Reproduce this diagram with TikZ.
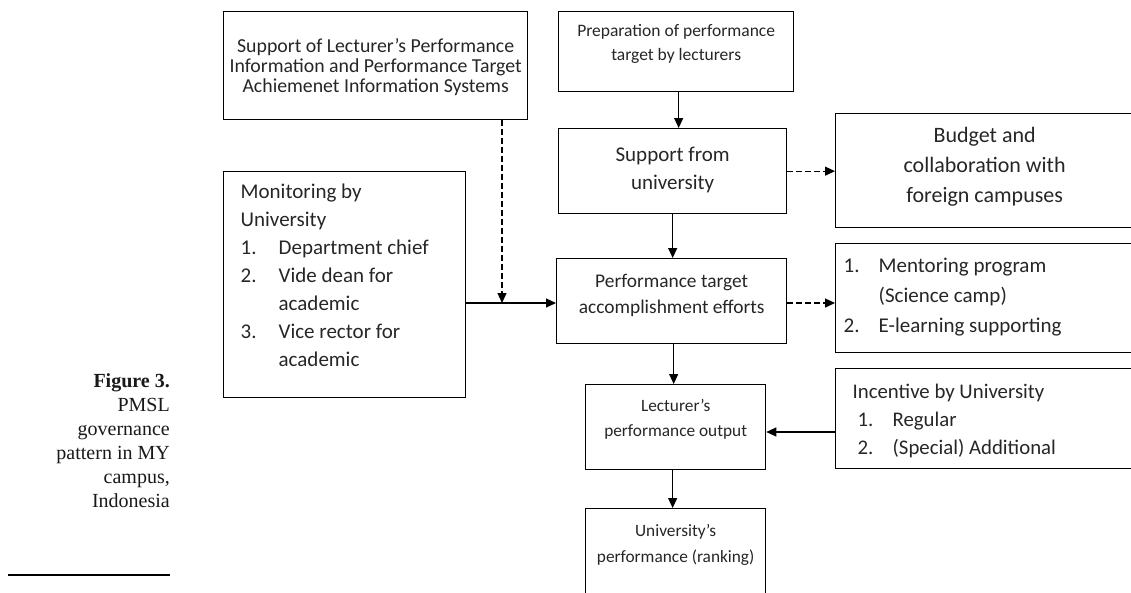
\documentclass[tikz,border=0pt]{standalone}
\usepackage{fontspec}
\setmainfont{Carlito}
\newfontfamily\capfont{Liberation Serif}
\usetikzlibrary{arrows.meta}
% text block of width #1, height #2, first line pushed down by #3
\newcommand\tblock[4]{\begin{minipage}[c][#2][t]{#1}\vspace*{#3}#4\par\end{minipage}}
\begin{document}
\begin{tikzpicture}[x=1pt,y=-1pt,
  box/.style={draw=black, line width=1.3pt, inner sep=0pt, anchor=north west, text=black!85},
  arr/.style={line width=1.2pt, -{Triangle[length=10pt,width=9pt]}},
  darr/.style={arr, dash pattern=on 5.5pt off 3.5pt}]
\useasboundingbox (0,0) rectangle (1131,592);
\clip (0,0) rectangle (1131,592);
% top row
\node[box, font=\fontsize{19.8}{19.5}\selectfont] (A) at (223,11)
  {\tblock{304pt}{108pt}{26.5pt}{\centering\strut Support of Lecturer's Performance\\Information and Performance Target\\Achiemenet Information Systems}};
\node[box, font=\fontsize{17.5}{24}\selectfont] (B) at (558,11)
  {\tblock{235pt}{80pt}{8pt}{\centering\strut Preparation of performance\\target by lecturers}};
% centre column
\node[box, font=\fontsize{21}{28}\selectfont] (S) at (558,128)
  {\tblock{228pt}{85pt}{13.5pt}{\centering\strut Support from\\university}};
\node[box, font=\fontsize{19.4}{26}\selectfont] (P) at (556,258)
  {\tblock{230pt}{85pt}{10.3pt}{\centering\strut Performance target\\accomplishment efforts}};
\node[box, font=\fontsize{17.3}{25}\selectfont] (L) at (585,384)
  {\tblock{180pt}{85pt}{9.5pt}{\centering\strut Lecturer's\\performance output}};
\node[box, font=\fontsize{17.3}{26}\selectfont] (U) at (585,508)
  {\tblock{180pt}{100pt}{9.8pt}{\centering\strut University's\\performance (ranking)}};
% left box
\node[box, font=\fontsize{21}{28}\selectfont] (M) at (223,171)
  {\tblock{242pt}{226pt}{7.4pt}{\strut\hspace*{17pt}\begin{tabular}[t]{@{}p{38pt}@{}l@{}}
   \multicolumn{2}{@{}l@{}}{Monitoring by}\\
   \multicolumn{2}{@{}l@{}}{University}\\
   1. & Department chief\\
   2. & Vide dean for\\
      & academic\\
   3. & Vice rector for\\
      & academic
   \end{tabular}}};
% right column
\node[box, font=\fontsize{22}{30}\selectfont] (Bu) at (835,113)
  {\tblock{298pt}{114pt}{8pt}{\centering\strut Budget and\\collaboration with\\foreign campuses}};
\node[box, font=\fontsize{21}{30}\selectfont] (Me) at (835,243)
  {\tblock{298pt}{109pt}{8pt}{\strut\hspace*{8pt}\begin{tabular}[t]{@{}p{35pt}@{}l@{}}
   1. & Mentoring program\\
      & (Science camp)\\
   2. & E-learning supporting
   \end{tabular}}};
\node[box, font=\fontsize{20.8}{28}\selectfont] (I) at (835,368)
  {\tblock{298pt}{100pt}{10.4pt}{\strut\hspace*{17pt}\begin{tabular}[t]{@{}p{40pt}@{}l@{}}
   \multicolumn{2}{@{}l@{}}{Incentive by University}\\
   \hspace*{5pt}1. & Regular\\
   \hspace*{5pt}2. & (Special) Additional
   \end{tabular}}};
% caption
\node[anchor=north east, align=right, inner sep=0pt, text=black!90, font=\capfont\fontsize{20}{24}\selectfont] (cap) at (170,373)
  {\textbf{Figure 3.}\\PMSL\\governance\\pattern in MY\\campus,\\Indonesia};
\draw[line width=1.5pt] (8,575) -- (170,575);
% helper coordinates
\coordinate (yMid) at (0,303);
\coordinate (yInc) at (0,432);
\coordinate (jn) at (502,303);
% connectors
\draw[arr] ([xshift=2.5pt]B.south) -- ([xshift=2.5pt]B.south |- S.north);
\draw[arr] (S.south) -- (S.south |- P.north);
\draw[arr] ([xshift=2pt]P.south) -- ([xshift=2pt]P.south |- L.north);
\draw[arr] ([xshift=-3pt]L.south) -- ([xshift=-3pt]L.south |- U.north);
\draw[darr] (S.east) -- (S.east -| Bu.west);
\draw[darr] (P.east |- yMid) -- (Me.west |- yMid);
\draw[arr] (M.east |- yMid) -- (P.west |- yMid);
\draw[darr] (A.south -| jn) -- (jn);
\draw[arr] (I.west |- yInc) -- (L.east |- yInc);
\end{tikzpicture}
\end{document}
